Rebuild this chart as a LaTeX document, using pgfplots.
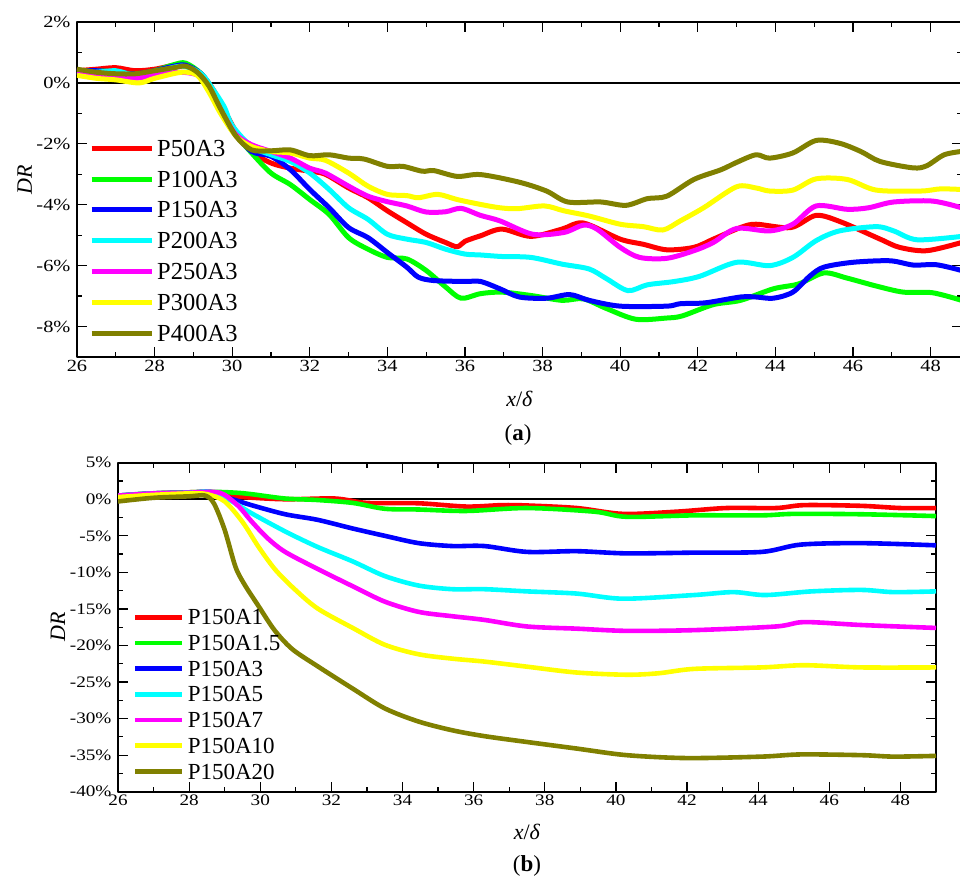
\documentclass[border=0pt]{standalone}
\usepackage{fontspec}
\setmainfont{Liberation Serif}
\newfontfamily\tickfont[FakeStretch=1.2]{Liberation Serif}
\usepackage{pgfplots}
\pgfplotsset{compat=1.18}
\usepackage{pgfplotstable}

\definecolor{cred}{RGB}{255,0,0}
\definecolor{cgreen}{RGB}{0,255,0}
\definecolor{cblue}{RGB}{0,0,255}
\definecolor{ccyan}{RGB}{0,255,255}
\definecolor{cmag}{RGB}{255,0,255}
\definecolor{cyel}{RGB}{255,255,0}
\definecolor{colive}{RGB}{128,128,0}

% ---------- panel (a) ----------
\pgfplotstableread{
x y
26 0.40
26.5 0.45
27 0.50
27.5 0.40
28 0.45
28.5 0.58
28.8 0.60
29.2 0.30
29.5 -0.20
29.8 -0.90
30.1 -1.60
30.5 -2.25
31 -2.63
31.5 -2.80
32 -2.90
32.4 -3.00
33 -3.45
33.5 -3.77
34 -4.20
34.5 -4.59
35 -4.97
35.5 -5.24
35.8 -5.38
36 -5.20
36.4 -5.02
36.95 -4.80
37.7 -5.04
38.5 -4.80
39.05 -4.60
40.0 -5.13
40.6 -5.30
41.2 -5.48
41.9 -5.40
42.4 -5.13
43.1 -4.75
43.5 -4.64
44.4 -4.75
45.05 -4.35
45.7 -4.57
46.7 -5.13
47.2 -5.40
47.9 -5.51
48.8 -5.24
}\aRed
\pgfplotstableread{
x y
26 0.35
26.5 0.40
27 0.35
27.5 0.25
28 0.40
28.5 0.60
28.8 0.65
29.2 0.30
29.5 -0.30
29.8 -1.00
30.1 -1.70
30.5 -2.30
31 -2.96
31.5 -3.34
32 -3.83
32.5 -4.32
33 -5.08
33.5 -5.46
34 -5.73
34.5 -5.78
35 -6.16
35.5 -6.70
35.9 -7.07
36.4 -6.92
36.95 -6.87
37.7 -6.98
38.5 -7.14
39.05 -7.09
39.65 -7.41
40.4 -7.76
41.2 -7.72
41.6 -7.65
42.4 -7.28
43.1 -7.14
43.95 -6.76
44.6 -6.60
45.25 -6.24
45.85 -6.41
46.6 -6.67
47.3 -6.87
48.05 -6.89
48.8 -7.14
}\aGreen
\pgfplotstableread{
x y
26 0.40
26.5 0.40
27 0.35
27.5 0.30
28 0.40
28.5 0.55
28.8 0.58
29.2 0.30
29.5 -0.25
29.8 -0.95
30.1 -1.65
30.5 -2.25
31 -2.41
31.5 -2.85
32 -3.50
32.5 -4.10
33 -4.75
33.5 -5.08
34 -5.57
34.5 -6.05
34.8 -6.38
35.2 -6.49
36 -6.52
36.4 -6.52
36.9 -6.76
37.4 -7.03
38.1 -7.07
38.7 -6.95
39.2 -7.14
40.0 -7.33
41.2 -7.33
41.55 -7.25
42.2 -7.22
43.1 -7.03
43.5 -7.03
43.95 -7.07
44.45 -6.87
44.9 -6.33
45.25 -6.05
46.0 -5.89
46.95 -5.84
47.55 -5.98
48.15 -5.97
48.8 -6.16
}\aBlue
\pgfplotstableread{
x y
26 0.35
26.5 0.35
27 0.40
27.5 0.25
28 0.35
28.7 0.55
29.2 0.30
29.5 -0.20
29.8 -0.80
30.0 -1.40
30.5 -2.09
31 -2.36
31.5 -2.58
32 -2.96
32.5 -3.50
33 -4.10
33.5 -4.48
34 -4.97
34.5 -5.13
35 -5.24
35.5 -5.46
36 -5.62
36.4 -5.65
36.95 -5.70
37.7 -5.73
38.5 -5.95
39.2 -6.11
39.65 -6.43
40.2 -6.82
40.7 -6.63
41.4 -6.52
42.05 -6.35
43.0 -5.89
43.85 -6.00
44.45 -5.73
45.05 -5.18
45.65 -4.86
46.6 -4.72
47.05 -4.86
47.65 -5.15
48.8 -5.04
}\aCyan
\pgfplotstableread{
x y
26 0.35
26.5 0.25
27 0.20
27.5 0.15
28 0.25
28.7 0.35
29.2 0.20
29.5 -0.40
29.8 -1.10
30.1 -1.70
30.5 -2.03
31 -2.25
31.5 -2.47
32 -2.80
32.4 -2.96
33 -3.39
33.5 -3.72
34 -3.90
34.5 -4.04
35 -4.24
35.5 -4.23
35.9 -4.12
36.4 -4.35
36.9 -4.53
37.75 -4.97
38.55 -4.91
39.05 -4.67
39.4 -4.80
40.0 -5.40
40.5 -5.73
41.2 -5.76
41.9 -5.51
42.4 -5.24
43.0 -4.78
43.85 -4.86
44.45 -4.64
45.05 -4.04
45.85 -4.15
46.4 -4.10
47.05 -3.91
48.05 -3.88
48.8 -4.10
}\aMag
\pgfplotstableread{
x y
26 0.25
26.5 0.15
27 0.10
27.6 0.00
28 0.15
28.7 0.35
29.1 0.25
29.4 -0.30
29.7 -1.00
30.1 -1.75
30.5 -2.09
31 -2.25
31.5 -2.30
32 -2.47
32.4 -2.54
33 -2.96
33.5 -3.39
34 -3.66
34.5 -3.70
34.8 -3.77
35.3 -3.66
35.8 -3.83
36.4 -3.99
36.9 -4.10
37.35 -4.13
38.05 -4.04
38.55 -4.20
39.2 -4.37
40.0 -4.64
40.6 -4.72
41.1 -4.83
41.55 -4.53
42.15 -4.10
43.0 -3.41
43.5 -3.45
43.85 -3.55
44.45 -3.52
45.05 -3.15
45.85 -3.17
46.6 -3.52
47.75 -3.55
48.25 -3.48
48.8 -3.50
}\aYel
\pgfplotstableread{
x y
26 0.45
26.5 0.35
27 0.30
27.5 0.30
28 0.40
28.5 0.50
28.8 0.55
29.1 0.35
29.4 -0.10
29.7 -0.85
30.1 -1.75
30.5 -2.20
31 -2.23
31.5 -2.20
32 -2.39
32.5 -2.36
33 -2.47
33.4 -2.50
34 -2.74
34.4 -2.74
34.9 -2.90
35.2 -2.88
35.8 -3.07
36.4 -3.01
37.4 -3.26
38.1 -3.55
38.65 -3.91
39.5 -3.91
40.15 -4.02
40.7 -3.80
41.2 -3.72
41.9 -3.17
42.6 -2.85
43.0 -2.61
43.5 -2.36
43.85 -2.47
44.45 -2.30
45.05 -1.89
45.65 -1.98
46.2 -2.25
46.7 -2.58
47.55 -2.79
47.9 -2.72
48.35 -2.36
48.8 -2.25
}\aOlive

% ---------- panel (b) ----------
\pgfplotstableread{
x y
26 0.45
27 0.8
28 0.95
28.6 1.0
29.0 0.6
29.5 0.3
30.7 0.0
32.1 0.1
33.0 -0.5
34.45 -0.55
35.8 -1.0
36.8 -0.8
37.5 -0.85
38.9 -1.2
40.2 -2.0
41.7 -1.7
43.1 -1.2
44.5 -1.2
45.3 -0.8
46.9 -0.9
48.0 -1.2
49.0 -1.2
}\bRed
\pgfplotstableread{
x y
26 0.5
26.9 0.8
28.6 1.0
29.3 0.9
29.75 0.7
30.7 0.1
31.6 -0.1
32.6 -0.5
33.5 -1.3
34.45 -1.4
35.8 -1.6
37.5 -1.2
39.4 -1.7
40.3 -2.4
42.2 -2.2
44.1 -2.2
45.0 -2.0
46.9 -2.05
49.0 -2.3
}\bGreen
\pgfplotstableread{
x y
26 0.5
27 0.8
28 0.9
28.6 1.0
29.1 0.2
29.75 -0.8
30.7 -2.05
31.6 -2.8
32.6 -4.0
33.5 -5.0
34.45 -6.0
35.4 -6.4
36.3 -6.4
37.5 -7.2
38.9 -7.1
40.3 -7.4
42.2 -7.3
44.1 -7.2
45.2 -6.2
46.9 -6.0
49.0 -6.3
}\bBlue
\pgfplotstableread{
x y
26 0.5
27 0.8
28 0.9
28.6 1.0
29.1 0.0
29.75 -1.9
30.7 -4.4
31.6 -6.5
32.6 -8.5
33.5 -10.5
34.45 -11.8
35.4 -12.3
36.3 -12.3
37.5 -12.6
38.9 -12.9
40.2 -13.6
42.2 -13.1
43.3 -12.7
44.2 -13.1
45.5 -12.6
46.9 -12.4
47.8 -12.7
49.0 -12.6
}\bCyan
\pgfplotstableread{
x y
26 0.5
27 0.8
28 0.9
28.7 1.0
29.0 0.6
29.4 -1.0
29.75 -3.0
30.2 -5.3
30.7 -7.2
31.6 -9.5
32.6 -11.9
33.5 -14.0
34.45 -15.4
35.4 -16.0
36.3 -16.5
37.5 -17.4
38.9 -17.7
40.3 -18.0
42.2 -17.9
44.5 -17.4
45.3 -16.8
46.9 -17.2
49.0 -17.6
}\bMag
\pgfplotstableread{
x y
26 0.3
27 0.6
28 0.8
28.5 0.7
29.0 -0.3
29.5 -3.1
29.95 -6.5
30.4 -9.5
30.9 -12.0
31.6 -14.9
32.6 -17.6
33.5 -19.9
34.45 -21.2
35.4 -21.8
36.3 -22.2
37.5 -22.9
38.9 -23.7
40.3 -24.0
41.2 -23.8
42.2 -23.2
44.1 -23.0
45.3 -22.7
46.9 -23.0
49.0 -23.0
}\bYel
\pgfplotstableread{
x y
26 -0.3
27 0.2
28 0.4
28.45 0.5
28.7 -0.6
29.0 -4.2
29.3 -9.2
29.55 -11.6
29.95 -14.6
30.4 -17.9
30.9 -20.5
31.6 -22.8
32.6 -25.9
33.5 -28.6
34.45 -30.4
35.4 -31.6
36.3 -32.4
37.5 -33.2
38.9 -34.1
40.3 -35.0
42.0 -35.4
44.1 -35.2
45.2 -34.9
46.9 -35.0
47.8 -35.2
49.0 -35.1
}\bOlive

\pgfplotsset{
  panel/.style={
    scale only axis,
    axis line style={line width=1.8pt},
    tick align=inside,
    major tick length=10pt,
    minor tick length=5pt,
    tick style={black, line width=1.2pt},
    /pgf/number format/assume math mode=true,
    yticklabel={\pgfmathprintnumber{\tick}\%},
    xtick={26,28,...,48},
    minor x tick num=1,
    minor y tick num=1,
    xlabel={\textit{x}/\textit{δ}},
    ylabel={\textit{DR}},
    label style={font=\fontsize{22}{22}\selectfont},
    legend cell align=left,
    line join=round,
  },
}

\begin{document}
\begin{tikzpicture}
\useasboundingbox (0pt,0pt) rectangle (960pt,-883pt);

% ===== (a) =====
\begin{axis}[panel,
  at={(77pt,-357pt)}, anchor=south west,
  width=885pt, height=335pt,
  xmin=26, xmax=48.81, ymin=-9, ymax=2,
  ytick={-8,-6,...,2},
  xticklabel style={font=\tickfont\fontsize{17}{17}\selectfont},
  yticklabel style={font=\tickfont\fontsize{17}{17}\selectfont, xshift=-3pt},
  ylabel style={at={(axis description cs:-0.059,0.53)}, anchor=center},
  xlabel style={at={(axis description cs:0.5,-0.125)}, anchor=center},
  legend image code/.code={\draw[#1] (0pt,0pt) -- (60pt,0pt);},
  legend style={at={(axis description cs:0.0136,0.648)}, anchor=north west,
    draw=none, fill=none, inner sep=0pt, row sep=14.6pt, column sep=3pt,
    font=\fontsize{24.5}{24.5}\selectfont,
    nodes={inner sep=0pt, text height=16.2pt, text depth=0pt}},
  every axis plot/.append style={line width=5pt, smooth, tension=0.5},
]
\addplot[black, line width=1.6pt, sharp plot, forget plot] coordinates {(26,0) (49,0)};
\addplot[cred] table {\aRed}; \addlegendentry{P50A3}
\addplot[cgreen] table {\aGreen}; \addlegendentry{P100A3}
\addplot[cblue] table {\aBlue}; \addlegendentry{P150A3}
\addplot[ccyan] table {\aCyan}; \addlegendentry{P200A3}
\addplot[cmag] table {\aMag}; \addlegendentry{P250A3}
\addplot[cyel] table {\aYel}; \addlegendentry{P300A3}
\addplot[colive] table {\aOlive}; \addlegendentry{P400A3}
\end{axis}

% ===== (b) =====
\begin{axis}[panel,
  at={(118pt,-791.7pt)}, anchor=south west,
  width=818pt, height=329pt,
  xmin=26, xmax=49, ymin=-40, ymax=5,
  ytick={-40,-35,...,5},
  xticklabel style={font=\tickfont\fontsize{16}{16}\selectfont},
  yticklabel style={font=\tickfont\fontsize{16}{16}\selectfont, xshift=-3pt},
  ylabel style={at={(axis description cs:-0.0733,0.5)}, anchor=center},
  xlabel style={at={(axis description cs:0.5,-0.1225)}, anchor=center},
  legend image code/.code={\draw[#1] (0pt,0pt) -- (47pt,0pt);},
  legend style={at={(axis description cs:0.0183,0.554)}, anchor=north west,
    draw=none, fill=none, inner sep=0pt, row sep=10.5pt, column sep=3pt,
    font=\fontsize{23}{23}\selectfont,
    nodes={inner sep=0pt, text height=15.2pt, text depth=0pt}},
  every axis plot/.append style={line width=4.6pt, smooth, tension=0.5},
]
\addplot[black, line width=1.6pt, sharp plot, forget plot] coordinates {(26,0) (49,0)};
\addplot[cred] table {\bRed}; \addlegendentry{P150A1}
\addplot[cgreen] table {\bGreen}; \addlegendentry{P150A1.5}
\addplot[cblue] table {\bBlue}; \addlegendentry{P150A3}
\addplot[ccyan] table {\bCyan}; \addlegendentry{P150A5}
\addplot[cmag] table {\bMag}; \addlegendentry{P150A7}
\addplot[cyel] table {\bYel}; \addlegendentry{P150A10}
\addplot[colive] table {\bOlive}; \addlegendentry{P150A20}
\end{axis}

\node[font=\fontsize{23}{23}\selectfont] at (518pt,-435pt) {(\textbf{a})};
\node[font=\fontsize{23}{23}\selectfont] at (527pt,-866pt) {(\textbf{b})};
\end{tikzpicture}
\end{document}
